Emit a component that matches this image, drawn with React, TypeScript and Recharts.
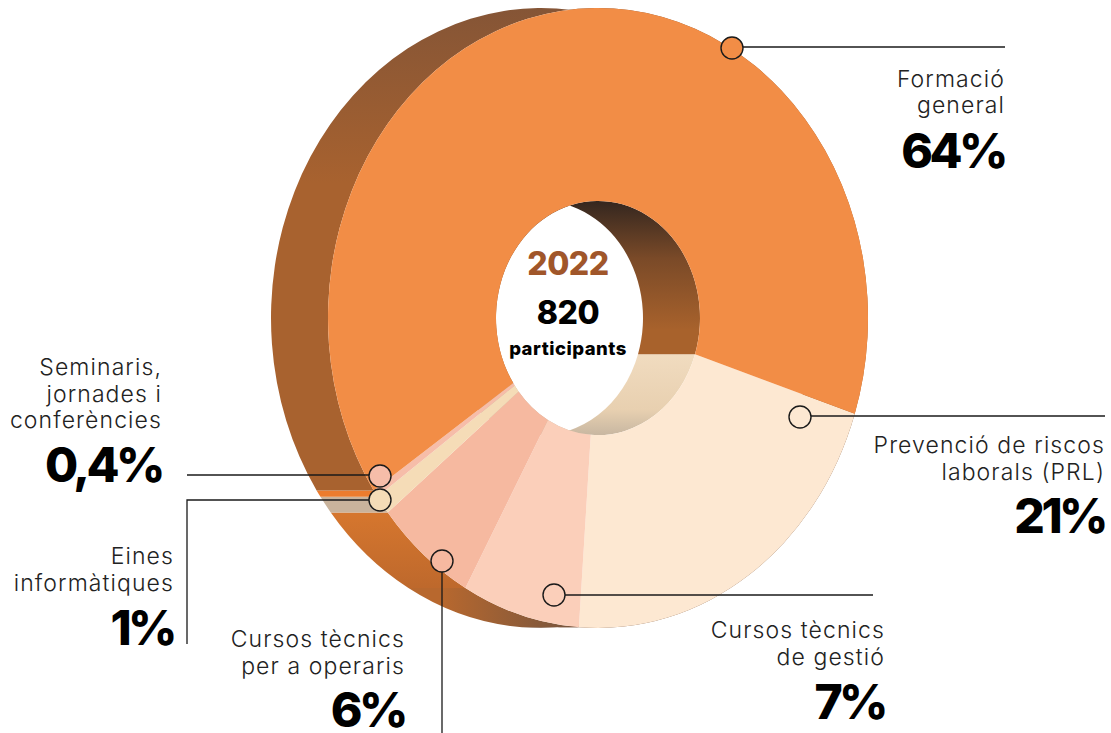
import { PieChart, Pie, Cell } from 'recharts';

// slices clockwise from the PRL / Formació boundary
const categories = [
  'Prevenció de riscos laborals (PRL)',
  'Cursos tècnics de gestió',
  'Cursos tècnics per a operaris',
  'Eines informàtiques',
  'Seminaris, jornades i conferències',
  'Formació general'
];
const shares = [21, 7, 6, 1, 0.4, 64];
const shareLabels = ['21%', '7%', '6%', '1%', '0,4%', '64%'];

const faceColors = ['#fde8d2', '#fbcfba', '#f6b9a0', '#f5dcb7', '#f6bda9', '#f28d46'];
const outerWallColors = ['#7d5a44', 'url(#wallGestio)', 'url(#wallOperaris)', '#c9b39c', '#ec7c2e', 'url(#wallGeneral)'];
const innerWallColors = ['url(#holeLight)', '#cbbba6', '#cbbba6', '#cbbba6', '#cbbba6', 'url(#holeDark)'];

const chartData = categories.map((name, i) => ({ name, value: shares[i] }));

const CX = 598;
const CY = 318;
const OUTER = 270;
const INNER = 102;
const Y_SCALE = 1.148;
const DEPTH = 57;

const pt = (cx: number, cy: number, r: number, deg: number) => {
  const a = (deg * Math.PI) / 180;
  return [cx + r * Math.cos(a), cy - r * Y_SCALE * Math.sin(a)];
};

const arc = (cx: number, cy: number, r: number, from: number, to: number, move: boolean) => {
  const [x0, y0] = pt(cx, cy, r, from);
  const [x1, y1] = pt(cx, cy, r, to);
  const large = Math.abs(to - from) > 180 ? 1 : 0;
  const sweep = to < from ? 1 : 0;
  return `${move ? 'M' : 'L'}${x0} ${y0}A${r} ${r * Y_SCALE} 0 ${large} ${sweep} ${x1} ${y1}`;
};

// front face: elliptical ring sector
const FaceShape = (p: any) => {
  const d =
    arc(p.cx, p.cy, p.outerRadius, p.startAngle, p.endAngle, true) +
    arc(p.cx, p.cy, p.innerRadius, p.endAngle, p.startAngle, false) +
    'Z';
  return <path d={d} fill={p.fill} />;
};

// extruded side between the front arc and the same arc pushed back to the left
const wallShape = (radiusKey: 'outerRadius' | 'innerRadius') => (p: any) => {
  const r = p[radiusKey];
  const d =
    arc(p.cx, p.cy, r, p.startAngle, p.endAngle, true) +
    arc(p.cx - DEPTH, p.cy, r, p.endAngle, p.startAngle, false) +
    'Z';
  return <path d={d} fill={p.fill} />;
};

const labelStyle = { fontFamily: 'Inter, sans-serif', fontWeight: 300, fontSize: 23, letterSpacing: 1.1, fill: '#222' };
const bigStyle = { fontFamily: 'Inter, sans-serif', fontWeight: 800, fontSize: 48, letterSpacing: -3.5, fill: '#000' };
const centerStyle = { fontFamily: 'Inter, sans-serif', fontWeight: 800, textAnchor: 'middle' as const };

// callout text: index into the data, right edge, baselines of each line, baseline of the share
const callouts = [
  { i: 5, x: 1005, lines: [['Formació', 87], ['general', 113]], y: 168 },
  { i: 0, x: 1105, lines: [['Prevenció de riscos', 453], ['laborals (PRL)', 480]], y: 533 },
  { i: 1, x: 885, lines: [['Cursos tècnics', 638], ['de gestió', 665]], y: 719 },
  { i: 2, x: 405, lines: [['Cursos tècnics', 647], ['per a operaris', 674]], y: 727 },
  { i: 3, x: 174, lines: [['Eines', 564], ['informàtiques', 591]], y: 645 },
  { i: 4, x: 162, lines: [['Seminaris,', 375], ['jornades i', 402], ['conferències', 428]], y: 482 }
];

// marker position and leader line for each callout
const leaders = [
  { i: 5, mx: 732, my: 48, points: '743,47 1005,47' },
  { i: 0, mx: 800, my: 417, points: '811,416 1105,416' },
  { i: 1, mx: 554, my: 595, points: '565,595 873,595' },
  { i: 2, mx: 442, my: 561, points: '442,572 442,733' },
  { i: 3, mx: 380, my: 500, points: '369,500 187,500 187,644' },
  { i: 4, mx: 380, my: 476, points: '369,475 187,475' }
];

export default function App() {
  return (
    <div style={{ position: 'absolute', left: 0, top: 0, width: 1111, height: 733 }}>
      <PieChart width={1111} height={733} margin={{ top: 0, right: 0, bottom: 0, left: 0 }}>
        <defs>
          <linearGradient id="holeDark" gradientUnits="userSpaceOnUse" x1="0" y1="200" x2="0" y2="330">
            <stop offset="0%" stopColor="#33261f" />
            <stop offset="45%" stopColor="#7a4a28" />
            <stop offset="100%" stopColor="#a8622c" />
          </linearGradient>
          <linearGradient id="holeLight" gradientUnits="userSpaceOnUse" x1="0" y1="352" x2="0" y2="434">
            <stop offset="0%" stopColor="#f1dcc0" />
            <stop offset="70%" stopColor="#e8d0b0" />
            <stop offset="100%" stopColor="#c9b8a2" />
          </linearGradient>
          <linearGradient id="wallGeneral" gradientUnits="userSpaceOnUse" x1="0" y1="8" x2="0" y2="300">
            <stop offset="0%" stopColor="#855536" />
            <stop offset="60%" stopColor="#a8622f" />
            <stop offset="100%" stopColor="#a8622f" />
          </linearGradient>
          <linearGradient id="wallOperaris" gradientUnits="userSpaceOnUse" x1="0" y1="515" x2="0" y2="590">
            <stop offset="0%" stopColor="#d5762e" />
            <stop offset="100%" stopColor="#bd682c" />
          </linearGradient>
          <linearGradient id="wallGestio" gradientUnits="userSpaceOnUse" x1="440" y1="0" x2="590" y2="0">
            <stop offset="0%" stopColor="#b8682e" />
            <stop offset="100%" stopColor="#6f5340" />
          </linearGradient>
        </defs>

        <Pie
          data={chartData}
          dataKey="value"
          cx={CX}
          cy={CY}
          startAngle={-18}
          endAngle={-378}
          innerRadius={INNER}
          outerRadius={OUTER}
          stroke="none"
          shape={wallShape('outerRadius')}
          isAnimationActive={false}
        >
          {outerWallColors.map((c, i) => <Cell key={i} fill={c} />)}
        </Pie>
        <Pie
          data={chartData}
          dataKey="value"
          cx={CX}
          cy={CY}
          startAngle={-18}
          endAngle={-378}
          innerRadius={INNER}
          outerRadius={OUTER}
          stroke="none"
          shape={wallShape('innerRadius')}
          isAnimationActive={false}
        >
          {innerWallColors.map((c, i) => <Cell key={i} fill={c} />)}
        </Pie>
        <Pie
          data={chartData}
          dataKey="value"
          cx={CX}
          cy={CY}
          startAngle={-18}
          endAngle={-378}
          innerRadius={INNER}
          outerRadius={OUTER}
          stroke="none"
          shape={FaceShape}
          isAnimationActive={false}
        >
          {faceColors.map((c, i) => <Cell key={i} fill={c} />)}
        </Pie>
      </PieChart>

      {/* callouts sit in their own svg, the pies paint over chart children */}
      <svg width={1111} height={733} style={{ position: 'absolute', left: 0, top: 0 }}>
        {leaders.map((l) => (
          <g key={l.i}>
            <polyline points={l.points} fill="none" stroke="#1a1a1a" strokeWidth={1.3} />
            <circle cx={l.mx} cy={l.my} r={11} fill={faceColors[l.i]} stroke="#1a1a1a" strokeWidth={1.4} />
          </g>
        ))}

        {callouts.map((c) => (
          <g key={c.i} textAnchor="end">
            {c.lines.map(([t, y]) => (
              <text key={t} x={c.x} y={y as number} style={labelStyle}>{t}</text>
            ))}
            <text x={c.x} y={c.y} style={bigStyle}>{shareLabels[c.i]}</text>
          </g>
        ))}

        <text x={568} y={275} style={{ ...centerStyle, fontSize: 32, letterSpacing: -0.5, fill: '#a0562a' }}>2022</text>
        <text x={568} y={324} style={{ ...centerStyle, fontSize: 32, letterSpacing: -0.5, fill: '#000' }}>820</text>
        <text x={568} y={355} style={{ ...centerStyle, fontSize: 18.5, letterSpacing: 0.5, fill: '#000' }}>participants</text>
      </svg>
    </div>
  );
}
